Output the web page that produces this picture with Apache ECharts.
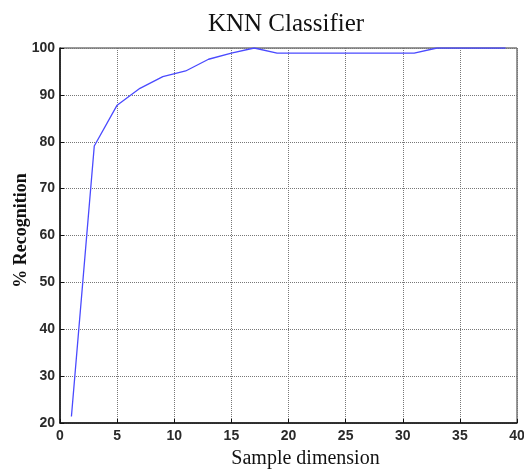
<!DOCTYPE html>
<html>
<head>
<meta charset="utf-8">
<script src="https://cdn.jsdelivr.net/npm/echarts@6/dist/echarts.min.js"></script>
<style>
  html, body { margin: 0; padding: 0; background: #fff; }
  #chart { width: 524px; height: 469px; }
</style>
</head>
<body>
<div id="chart"></div>
<script>
var dims = [1, 3, 5, 7, 9, 11, 13, 15, 17, 19, 21, 23, 25, 27, 29, 31, 33, 35, 37, 39];
var recognition = [21.4, 79.1, 87.8, 91.4, 93.9, 95.1, 97.6, 98.9, 100, 98.9,
                   98.9, 98.9, 98.9, 98.9, 98.9, 98.9, 100, 100, 100, 100];

var points = dims.map(function (d, i) { return [d, recognition[i]]; });

var tickFont = { fontFamily: 'Liberation Sans', fontSize: 14, fontWeight: 'bold', color: '#2a2a2a' };
var gridLine = { show: true, lineStyle: { color: '#777', type: 'dotted', width: 1 } };

var option = {
    animation: false,
    backgroundColor: '#fff',
    title: {
        text: 'KNN Classifier',
        left: 281,
        textAlign: 'center',
        top: 7,
        textStyle: { fontFamily: 'Liberation Serif', fontSize: 25, fontWeight: 'normal', color: '#111' }
    },
    grid: {
        left: 60, right: 7, top: 48, bottom: 46,
        outerBoundsMode: 'none',
        containLabel: false,
        show: true, borderColor: '#333', borderWidth: 1
    },
    xAxis: {
        type: 'value',
        min: 0, max: 40, interval: 5,
        name: 'Sample dimension',
        nameLocation: 'middle',
        nameGap: 26,
        nameMoveOverlap: false,
        nameTextStyle: { fontFamily: 'Liberation Serif', fontSize: 20, color: '#111', padding: [0, 0, 0, 34] },
        axisLine: { show: true, lineStyle: { color: '#111', width: 1.5 } },
        axisTick: { show: true, inside: true, length: 4, lineStyle: { color: '#111' } },
        axisLabel: Object.assign({ margin: 6 }, tickFont),
        splitLine: gridLine
    },
    yAxis: {
        type: 'value',
        min: 20, max: 100, interval: 10,
        name: '% Recognition',
        nameLocation: 'middle',
        nameGap: 30,
        nameMoveOverlap: false,
        nameTextStyle: { fontFamily: 'Liberation Serif', fontSize: 18, fontWeight: 'bold', color: '#111', padding: [0, 0, 0, 10] },
        axisLine: { show: true, lineStyle: { color: '#111', width: 1.5 } },
        axisTick: { show: true, inside: true, length: 4, lineStyle: { color: '#111' } },
        axisLabel: Object.assign({ margin: 5 }, tickFont),
        splitLine: gridLine
    },
    series: [
        {
            type: 'line',
            data: points,
            showSymbol: false,
            lineStyle: { color: '#4a4aff', width: 1.3 }
        }
    ]
};

var myChart = echarts.init(document.getElementById('chart'));
myChart.setOption(option);
</script>
</body>
</html>
